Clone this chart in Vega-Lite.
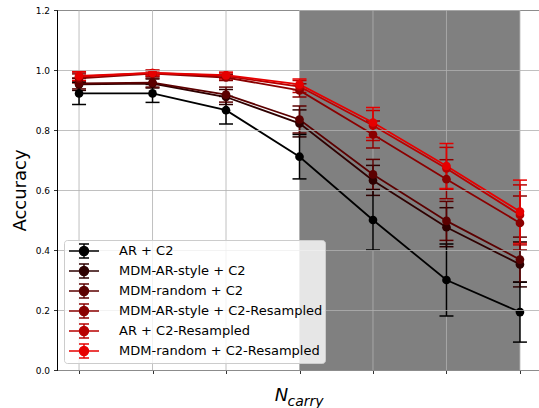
{
  "$schema": "https://vega.github.io/schema/vega-lite/v6.json",
  "width": 485,
  "height": 360,
  "autosize": "none",
  "padding": {"left": 57, "top": 10, "right": 0, "bottom": 38},
  "config": {
    "font": "DejaVu Sans",
    "view": {"stroke": "black", "strokeWidth": 1},
    "legend": {
      "orient": "bottom-left",
      "offset": 7,
      "title": null,
      "zindex": 2,
      "fillColor": "rgba(255,255,255,0.8)",
      "strokeColor": "#cccccc",
      "cornerRadius": 3,
      "padding": 2,
      "labelFontSize": 13,
      "labelColor": "black",
      "labelFont": "DejaVu Sans",
      "labelLimit": 400,
      "symbolType": "M-1.875,0H1.875M0,-0.875V0.875M-0.625,-0.875H0.625M-0.625,0.875H0.625M0.56,0A0.56,0.56,0,1,1,-0.56,0A0.56,0.56,0,1,1,0.56,0Z",
      "symbolSize": 256,
      "symbolStrokeWidth": 1.5,
      "symbolOffset": 9,
      "labelOffset": 26,
      "rowPadding": 0
    }
  },
  "title": {
    "text": "carry",
    "orient": "bottom",
    "fontSize": 14,
    "fontStyle": "italic",
    "fontWeight": "normal",
    "color": "black",
    "dx": 6,
    "offset": -10
  },
  "datasets": {
    "span": [{"start": 4, "end": 7}],
    "acc": [
      {"s": "AR + C2", "x": 1, "y": 0.922, "err": 0.037},
      {"s": "AR + C2", "x": 2, "y": 0.922, "err": 0.03},
      {"s": "AR + C2", "x": 3, "y": 0.866, "err": 0.046},
      {"s": "AR + C2", "x": 4, "y": 0.711, "err": 0.074},
      {"s": "AR + C2", "x": 5, "y": 0.5, "err": 0.1},
      {"s": "AR + C2", "x": 6, "y": 0.3, "err": 0.12},
      {"s": "AR + C2", "x": 7, "y": 0.193, "err": 0.1},
      {"s": "MDM-AR-style + C2", "x": 1, "y": 0.952, "err": 0.02},
      {"s": "MDM-AR-style + C2", "x": 2, "y": 0.955, "err": 0.015},
      {"s": "MDM-AR-style + C2", "x": 3, "y": 0.91, "err": 0.025},
      {"s": "MDM-AR-style + C2", "x": 4, "y": 0.822, "err": 0.045},
      {"s": "MDM-AR-style + C2", "x": 5, "y": 0.632, "err": 0.05},
      {"s": "MDM-AR-style + C2", "x": 6, "y": 0.476, "err": 0.065},
      {"s": "MDM-AR-style + C2", "x": 7, "y": 0.352, "err": 0.075},
      {"s": "MDM-random + C2", "x": 1, "y": 0.955, "err": 0.018},
      {"s": "MDM-random + C2", "x": 2, "y": 0.958, "err": 0.015},
      {"s": "MDM-random + C2", "x": 3, "y": 0.918, "err": 0.025},
      {"s": "MDM-random + C2", "x": 4, "y": 0.835, "err": 0.045},
      {"s": "MDM-random + C2", "x": 5, "y": 0.652, "err": 0.05},
      {"s": "MDM-random + C2", "x": 6, "y": 0.497, "err": 0.065},
      {"s": "MDM-random + C2", "x": 7, "y": 0.368, "err": 0.075},
      {"s": "MDM-AR-style + C2-Resampled", "x": 1, "y": 0.972, "err": 0.015},
      {"s": "MDM-AR-style + C2-Resampled", "x": 2, "y": 0.988, "err": 0.01},
      {"s": "MDM-AR-style + C2-Resampled", "x": 3, "y": 0.975, "err": 0.01},
      {"s": "MDM-AR-style + C2-Resampled", "x": 4, "y": 0.932, "err": 0.022},
      {"s": "MDM-AR-style + C2-Resampled", "x": 5, "y": 0.785, "err": 0.045},
      {"s": "MDM-AR-style + C2-Resampled", "x": 6, "y": 0.636, "err": 0.065},
      {"s": "MDM-AR-style + C2-Resampled", "x": 7, "y": 0.49, "err": 0.09},
      {"s": "AR + C2-Resampled", "x": 1, "y": 0.978, "err": 0.015},
      {"s": "AR + C2-Resampled", "x": 2, "y": 0.99, "err": 0.01},
      {"s": "AR + C2-Resampled", "x": 3, "y": 0.98, "err": 0.01},
      {"s": "AR + C2-Resampled", "x": 4, "y": 0.945, "err": 0.02},
      {"s": "AR + C2-Resampled", "x": 5, "y": 0.815, "err": 0.05},
      {"s": "AR + C2-Resampled", "x": 6, "y": 0.672, "err": 0.07},
      {"s": "AR + C2-Resampled", "x": 7, "y": 0.517, "err": 0.1},
      {"s": "MDM-random + C2-Resampled", "x": 1, "y": 0.98, "err": 0.015},
      {"s": "MDM-random + C2-Resampled", "x": 2, "y": 0.99, "err": 0.008},
      {"s": "MDM-random + C2-Resampled", "x": 3, "y": 0.983, "err": 0.01},
      {"s": "MDM-random + C2-Resampled", "x": 4, "y": 0.952, "err": 0.018},
      {"s": "MDM-random + C2-Resampled", "x": 5, "y": 0.825, "err": 0.05},
      {"s": "MDM-random + C2-Resampled", "x": 6, "y": 0.68, "err": 0.075},
      {"s": "MDM-random + C2-Resampled", "x": 7, "y": 0.528, "err": 0.105}
    ]
  },
  "layer": [
    {
      "data": {"name": "span"},
      "mark": {"type": "rect", "color": "#808080", "opacity": 1},
      "encoding": {
        "x": {"field": "start", "type": "quantitative", "scale": {"domain": [0.7, 7.3], "nice": false, "zero": false},
          "axis": {"title": "N", "titleFontStyle": "italic", "titleFontSize": 18, "titleFontWeight": "normal", "titleColor": "black", "titleX": 224, "titlePadding": 13, "labels": false, "values": [1, 2, 3, 4, 5, 6, 7], "tickColor": "black", "tickSize": 3.5, "tickWidth": 0.8, "domainColor": "black", "domainWidth": 1, "grid": false}},
        "x2": {"field": "end"}
      }
    },
    {
      "data": {"name": "acc"},
      "transform": [{"aggregate": [], "groupby": ["x"]}],
      "mark": {"type": "rule", "color": "#b0b0b0", "strokeWidth": 0.8},
      "encoding": {
        "x": {"field": "x", "type": "quantitative", "scale": {"domain": [0.7, 7.3], "nice": false, "zero": false}, "axis": {"title": "N", "titleFontStyle": "italic", "titleFontSize": 18, "titleFontWeight": "normal", "titleColor": "black", "titleX": 224, "titlePadding": 13, "labels": false, "values": [1, 2, 3, 4, 5, 6, 7], "tickColor": "black", "tickSize": 3.5, "tickWidth": 0.8, "domainColor": "black", "domainWidth": 1, "grid": false}}
      }
    },
    {
      "data": {"name": "acc"},
      "mark": {"type": "errorbar", "ticks": {"size": 14, "thickness": 1.5, "opacity": 1}, "rule": {"strokeWidth": 1.5, "opacity": 1}},
      "encoding": {
        "x": {"field": "x", "type": "quantitative", "scale": {"domain": [0.7, 7.3], "nice": false, "zero": false}, "axis": {"title": "N", "titleFontStyle": "italic", "titleFontSize": 18, "titleFontWeight": "normal", "titleColor": "black", "titleX": 224, "titlePadding": 13, "labels": false, "values": [1, 2, 3, 4, 5, 6, 7], "tickColor": "black", "tickSize": 3.5, "tickWidth": 0.8, "domainColor": "black", "domainWidth": 1, "grid": false}},
        "y": {"field": "y", "type": "quantitative", "scale": {"domain": [0, 1.2], "nice": false, "zero": false},
          "axis": {"title": "Accuracy", "titleFontSize": 18, "titleFontWeight": "normal", "titleColor": "black", "titlePadding": 6, "values": [0, 0.2, 0.4, 0.6, 0.8, 1.0, 1.2], "format": ".1f", "labelFontSize": 9, "labelColor": "black", "labelPadding": 4, "tickColor": "black", "tickSize": 3.5, "tickWidth": 0.8, "domainColor": "black", "domainWidth": 1, "grid": true, "gridColor": "#b0b0b0", "gridWidth": 0.8, "zindex": 1}},
        "yError": {"field": "err"},
        "color": {"field": "s", "type": "nominal",
          "scale": {"domain": ["AR + C2", "MDM-AR-style + C2", "MDM-random + C2", "MDM-AR-style + C2-Resampled", "AR + C2-Resampled", "MDM-random + C2-Resampled"], "range": ["#000000", "#2e0000", "#5c0000", "#8a0000", "#b80000", "#e60000"]},
          "legend": {"encode": {"symbols": {"update": {"fill": {"scale": "color", "field": "value"}, "stroke": {"scale": "color", "field": "value"}, "opacity": {"value": 1}}}}}}
      }
    },
    {
      "data": {"name": "acc"},
      "mark": {"type": "line", "strokeWidth": 1.8},
      "encoding": {
        "x": {"field": "x", "type": "quantitative"},
        "y": {"field": "y", "type": "quantitative"},
        "color": {"field": "s", "type": "nominal"}
      }
    },
    {
      "data": {"name": "acc"},
      "mark": {"type": "point", "filled": true, "size": 75, "opacity": 1},
      "encoding": {
        "x": {"field": "x", "type": "quantitative"},
        "y": {"field": "y", "type": "quantitative"},
        "color": {"field": "s", "type": "nominal"}
      }
    }
  ]
}
